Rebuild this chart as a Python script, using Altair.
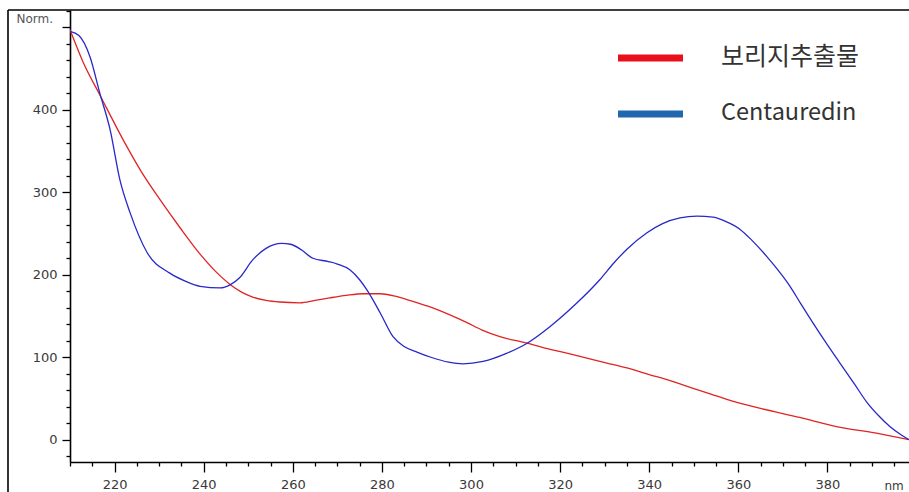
import altair as alt
import pandas as pd

# ---- data ----
series_names = ["보리지추출물", "Centauredin"]

red_nm = [210, 213, 216.7, 222.8, 226, 230.2, 234.7, 239.2, 242.5, 246, 248.5, 251, 254,
          257.1, 261.6, 265, 268.3, 272, 275.8, 279.6, 283, 285.6, 288, 290.8, 295, 299.1,
          302.5, 306.5, 312.6, 316, 321.5, 326, 330.5, 335, 340, 345, 349.5, 354, 357.4,
          365, 373.8, 382, 391, 398.3]
red_val = [497, 457, 418, 355, 325, 291, 257, 225, 205, 188, 179, 173, 169,
           167, 166, 169, 172, 175, 177, 177, 174, 170, 166, 161, 152, 142,
           133, 125, 117, 112, 105, 99, 93, 87, 79, 71, 63, 55, 49,
           38, 27, 16, 8, 0]

blue_nm = [210, 212, 214.5, 216.7, 219, 221.2, 223.5, 227.3, 232.4, 236, 239.2, 243.7,
           246, 248, 251, 254, 257.5, 259.5, 262, 264.5, 268, 270, 272.8, 275, 276.6,
           279.6, 282.5, 285, 288, 291, 295, 298.2, 302.7, 308.1, 312.6, 317.7, 323.8,
           328.9, 332, 335, 339.5, 343, 346.9, 350.7, 354.3, 357, 360.4, 363, 366.4, 369,
           371.6, 374, 376.7, 380, 382.8, 386, 388.9, 391.5, 394, 396.5, 398.3]
blue_val = [495, 490, 464, 420, 376, 315, 275, 227, 202, 192, 186, 184,
            188, 196, 218, 232, 238, 237, 230, 220, 216, 213, 206, 194, 182,
            154, 125, 113, 106, 100, 94, 92, 95, 105, 117, 137, 166,
            194, 214, 231, 251, 262, 269, 271, 270, 265, 255, 242, 222, 205,
            186, 165, 142, 115, 93, 68, 45, 29, 16, 6, 0]

line_colors = ["#E02424", "#2828C8"]
legend_colors = ["#E8101A", "#1F68B0"]

x_tick_values = list(range(210, 400, 5))
y_tick_values = list(range(-20, 521, 20))
x_domain = [210, 398.3]
y_domain = [-27, 521]

df = pd.concat([
    pd.DataFrame({"nm": red_nm, "value": red_val, "series": series_names[0]}),
    pd.DataFrame({"nm": blue_nm, "value": blue_val, "series": series_names[1]}),
], ignore_index=True)

W, H = 839, 452
LABEL_FONT = "DejaVu Sans"
LABEL_COLOR = "#3a3a3a"

x_axis = alt.Axis(
    values=x_tick_values,
    labelExpr="datum.value % 20 === 0 ? datum.label : ''",
    tickSize={"condition": {"test": "datum.value % 20 === 0", "value": 10}, "value": 4},
    tickColor="black", tickWidth=1.3,
    domainColor="black", domainWidth=1.6,
    labelFont=LABEL_FONT, labelFontSize=13, labelColor=LABEL_COLOR,
    labelPadding=6, labelFlush=False, labelOverlap=False,
    grid=False,
    title="nm", titleFont=LABEL_FONT, titleFontSize=12, titleFontWeight="normal",
    titleColor=LABEL_COLOR, titleAlign="left", titleBaseline="middle",
    titleX=814, titleY=23, titleAnchor="start",
)

y_axis = alt.Axis(
    values=y_tick_values,
    labelExpr="(datum.value % 100 === 0 && datum.value >= 0 && datum.value <= 400) ? datum.label : ''",
    tickSize={"condition": {"test": "datum.value % 100 === 0", "value": 8}, "value": 4},
    tickColor="black", tickWidth=1.3,
    domainColor="black", domainWidth=1.6,
    labelFont=LABEL_FONT, labelFontSize=13, labelColor=LABEL_COLOR,
    labelPadding=5, labelFlush=False, labelOverlap=False,
    grid=False,
    title="Norm.", titleFont=LABEL_FONT, titleFontSize=12, titleFontWeight="normal",
    titleColor="#555555", titleAngle=0, titleAlign="left", titleBaseline="middle",
    titleX=-54, titleY=8,
)

lines = alt.Chart(df).mark_line(strokeWidth=1.3, interpolate="monotone", clip=True).encode(
    x=alt.X("nm:Q", scale=alt.Scale(domain=x_domain, nice=False, zero=False), axis=x_axis),
    y=alt.Y("value:Q", scale=alt.Scale(domain=y_domain, nice=False, zero=False), axis=y_axis),
    color=alt.Color("series:N", scale=alt.Scale(domain=series_names, range=line_colors), legend=None),
)

# ---- manual legend (upper right) ----
legend_layers = []
legend_rows = [48, 104]
legend_sizes = [25, 23.5]
for name, col, yy, fs in zip(series_names, legend_colors, legend_rows, legend_sizes):
    ld = pd.DataFrame({"label": [name]})
    legend_layers.append(
        alt.Chart(ld).mark_rule(color=col, strokeWidth=7).encode(
            x=alt.value(548), x2=alt.value(613), y=alt.value(yy)
        )
    )
    legend_layers.append(
        alt.Chart(ld).mark_text(
            align="left", baseline="middle", fontSize=fs, color="#333333",
            font="Noto Sans CJK KR"
        ).encode(text="label:N", x=alt.value(651), y=alt.value(yy - 1))
    )

# ---- outer frame (left and top) ----
frame_df = pd.DataFrame({"k": [0]})
frame_left = alt.Chart(frame_df).mark_rule(color="black", strokeWidth=1.6).encode(
    x=alt.value(-62), y=alt.value(0), y2=alt.value(482)
)
frame_top = alt.Chart(frame_df).mark_rule(color="black", strokeWidth=1.6).encode(
    x=alt.value(-62), x2=alt.value(W), y=alt.value(0)
)

chart = alt.layer(lines, *legend_layers, frame_left, frame_top).properties(
    width=W, height=H,
    autosize=alt.AutoSizeParams(type="none"),
    padding={"left": 70, "top": 10, "right": 0, "bottom": 30},
    background="white",
).configure_view(stroke=None)

chart.save("out.html", embed_options={"renderer": "svg", "actions": False})
